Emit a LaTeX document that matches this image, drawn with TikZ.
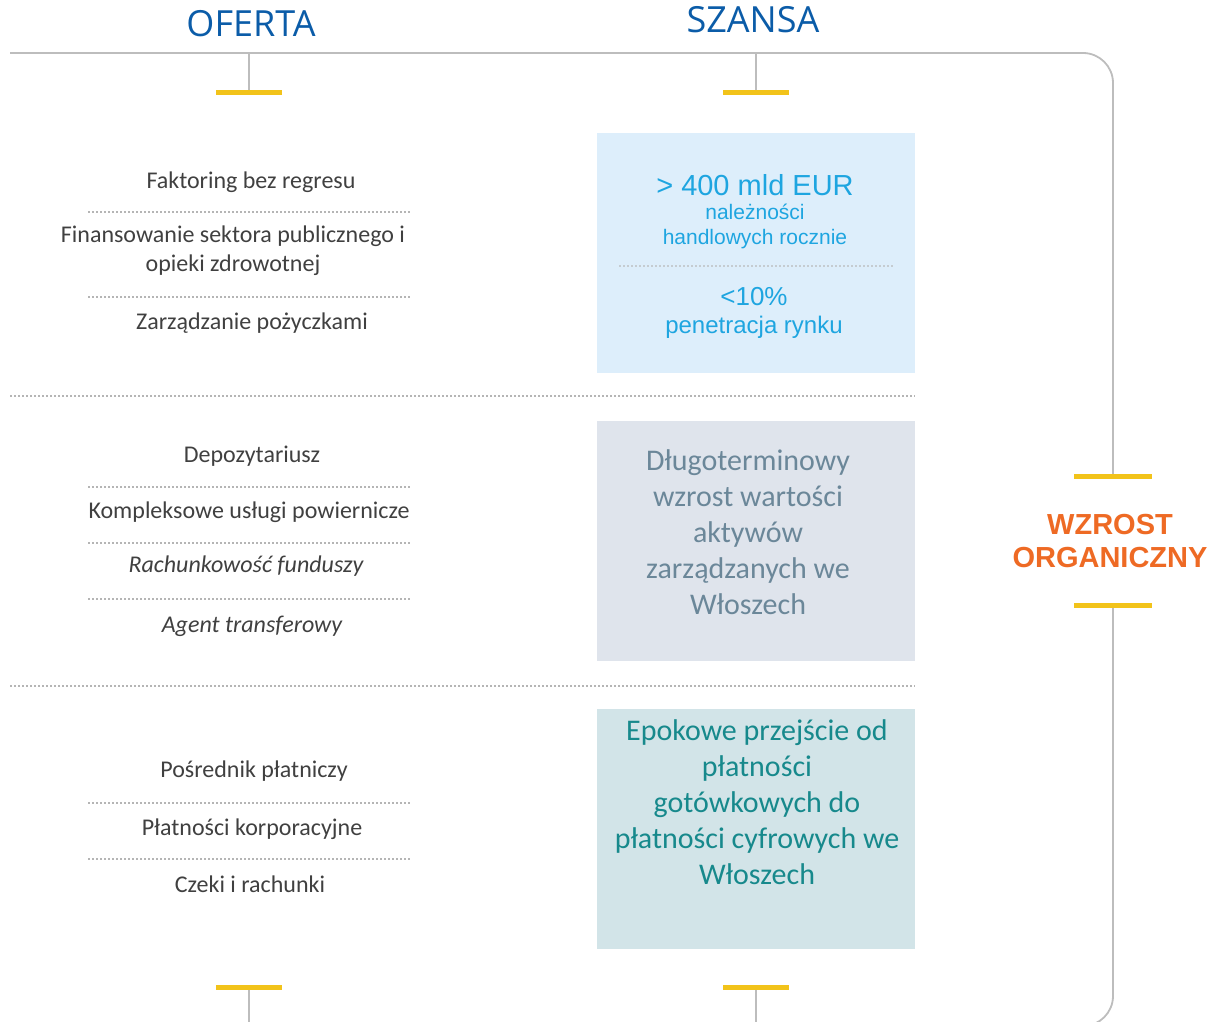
\documentclass[tikz,border=0pt]{standalone}
\usepackage{fontspec}
\setmainfont{Carlito}
\newfontfamily\arialfont{Liberation Sans}
\newfontfamily\headfont{Open Sans}
\usetikzlibrary{calc}
\definecolor{ob-head}{HTML}{0B5CA8}
\definecolor{ob-line}{HTML}{BDBDBD}
\definecolor{ob-bar}{HTML}{F2C31A}
\definecolor{ob-dots}{HTML}{B5B5B5}
\definecolor{ob-text}{HTML}{404040}
\definecolor{ob-orange}{HTML}{EE6A24}
\definecolor{ob-skyfill}{HTML}{DDEEFB}
\definecolor{ob-sky}{HTML}{1EA5E0}
\definecolor{ob-greyfill}{HTML}{DFE4EC}
\definecolor{ob-slate}{HTML}{6B8799}
\definecolor{ob-tealfill}{HTML}{D2E4E8}
\definecolor{ob-teal}{HTML}{17898C}

\tikzset{
  bar/.style={ob-bar, line width=5pt},
  stub/.style={ob-line, line width=1.8pt},
  dots/.style={ob-dots, line width=1.6pt, dash pattern=on 1.6pt off 2.4pt},
  item/.style={text=ob-text, font=\fontsize{24}{29}\selectfont, align=center, inner sep=0pt},
  chance/.style={minimum width=318, minimum height=240, inner sep=0pt},
  big/.style={text=ob-sky, font=\arialfont\fontsize{29}{34}\selectfont, inner sep=0pt},
  small/.style={text=ob-sky, font=\arialfont\fontsize{21}{25}\selectfont, align=center, inner sep=0pt},
  story/.style={font=\fontsize{30}{36}\selectfont, align=center, inner sep=0pt},
}

\begin{document}
\begin{tikzpicture}[x=1pt, y=-1pt]
    \useasboundingbox (0,0) rectangle (1216,1022);

    % column headings
    \node[text=ob-head, font=\headfont\fontsize{36}{40}\selectfont] (oferta) at (251,24) {OFERTA};
    \node[text=ob-head, font=\headfont\fontsize{36}{40}\selectfont] (szansa) at (753,20) {SZANSA};

    % frame with the gap for the side label
    \coordinate (gt) at (1113,476);
    \coordinate (gb) at (1113,605);
    \draw[stub, rounded corners=30] (10,53) -- (1113,53) -- (gt);
    \draw[stub, rounded corners=30] (gb) -- (1113,1026) -- (1060,1026);

    % ticks on the frame
    \coordinate (t1) at (249,93);
    \coordinate (t2) at (756,93);
    \coordinate (b1) at (249,987);
    \coordinate (b2) at (756,987);
    \draw[stub] (249,53) -- (t1);
    \draw[stub] (756,53) -- (t2);
    \draw[stub] (b1) -- (249,1030);
    \draw[stub] (b2) -- (756,1030);
    \foreach \p in {t1,t2,b1,b2}
        \draw[bar] ($(\p)+(-33,0)$) -- ($(\p)+(33,0)$);
    \draw[bar] ($(gt)+(-39,0)$) -- ($(gt)+(39,0)$);
    \draw[bar] ($(gb)+(-39,0)$) -- ($(gb)+(39,0)$);

    \node[text=ob-orange, font=\arialfont\bfseries\fontsize{29}{33}\selectfont, align=center] (organic) at (1110,541) {WZROST\\ORGANICZNY};

    % row separators
    \draw[dots] (10,396) -- (915,396);
    \draw[dots] (10,686) -- (915,686);

    % offer, first row
    \node[item] (faktoring) at (251,182) {Faktoring bez regresu};
    \node[item] (sektor) at (233,251) {Finansowanie sektora publicznego i\\opieki zdrowotnej};
    \node[item] (pozyczki) at (252,323) {Zarządzanie pożyczkami};
    \draw[dots] (88,212) -- (410,212);
    \draw[dots] (88,297) -- (410,297);

    % offer, second row
    \node[item] (depo) at (252,456) {Depozytariusz};
    \node[item] (powier) at (249,512) {Kompleksowe usługi powiernicze};
    \node[item, font=\itshape\fontsize{24}{29}\selectfont] (fundusze) at (246,566) {Rachunkowość funduszy};
    \node[item, font=\itshape\fontsize{24}{29}\selectfont] (agent) at (252,626) {Agent transferowy};
    \draw[dots] (88,487) -- (410,487);
    \draw[dots] (88,543) -- (410,543);
    \draw[dots] (88,599) -- (410,599);

    % offer, third row
    \node[item] (posrednik) at (254,771) {Pośrednik płatniczy};
    \node[item] (korpo) at (252,829) {Płatności korporacyjne};
    \node[item] (czeki) at (250,884) {Czeki i rachunki};
    \draw[dots] (88,803) -- (410,803);
    \draw[dots] (88,859) -- (410,859);

    % chances
    \node[chance, fill=ob-skyfill] (rynek) at (756,253) {};
    \node[big] (kwota) at (755,185) {> 400 mld EUR};
    \node[small] (handel) at (755,226) {należności\\handlowych rocznie};
    \draw[dots, ob-dots!60!ob-skyfill] (619,266) -- (893,266);
    \node[big, font=\arialfont\fontsize{26}{30}\selectfont] (udzial) at (754,297) {<10\%};
    \node[small, font=\arialfont\fontsize{24}{28}\selectfont] (penetracja) at (754,327) {penetracja rynku};

    \node[chance, fill=ob-greyfill] (aktywa) at (756,541) {};
    \node[story, text=ob-slate] at (748,532) {Długoterminowy\\wzrost wartości\\aktywów\\zarządzanych we\\Włoszech};

    \node[chance, fill=ob-tealfill] (platnosci) at (756,829) {};
    \node[story, text=ob-teal] at (757,802) {Epokowe przejście od\\płatności\\gotówkowych do\\płatności cyfrowych we\\Włoszech};
\end{tikzpicture}
\end{document}
